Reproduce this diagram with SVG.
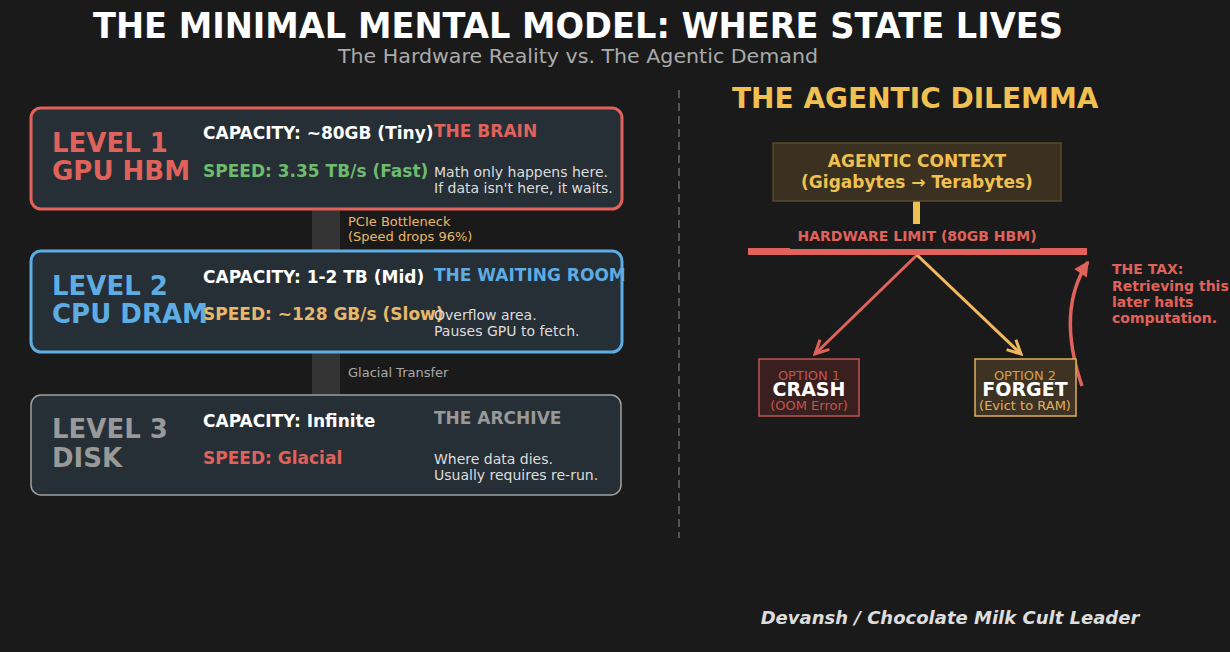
<svg xmlns="http://www.w3.org/2000/svg" width="1230" height="652" viewBox="0 0 1230 652">
<style>
text{font-family:"DejaVu Sans","Liberation Sans",sans-serif}
.b{font-weight:bold}
.lvl{font-size:26px;font-weight:bold}
.cap{font-size:17px;font-weight:bold;fill:#ffffff}
.role{font-size:17px;font-weight:bold}
.desc{font-size:14px;fill:#dddddd}
.box{fill:#262e36;stroke-width:3}
.bar{fill:#333333}
.note{font-size:13px}
.opt{font-size:13px;text-anchor:middle}
.optb{font-size:19px;font-weight:bold;fill:#ffffff;text-anchor:middle}
.tax{font-size:14px;font-weight:bold;fill:#e0625a}
</style>
<defs>
<marker id="ar" viewBox="0 0 12 12" refX="10.5" refY="6" markerWidth="18" markerHeight="18" markerUnits="userSpaceOnUse" orient="auto"><path d="M1.5,1.5 L10.5,6 L1.5,10.5" fill="none" stroke="context-stroke" stroke-width="2"/></marker>
<marker id="arR" viewBox="0 0 12 12" refX="10" refY="6" markerWidth="18" markerHeight="18" markerUnits="userSpaceOnUse" orient="auto"><path d="M1,1 L11,6 L1,11 Z" fill="#e0625a"/></marker>
</defs>
<rect width="1230" height="652" fill="#1a1a1a"/>
<g id="title">
<text x="578" y="38" class="b" font-size="35" fill="#ffffff" text-anchor="middle" textLength="970" lengthAdjust="spacingAndGlyphs">THE MINIMAL MENTAL MODEL: WHERE STATE LIVES</text>
<text x="578" y="63" font-size="19" fill="#aaaaaa" text-anchor="middle" textLength="480" lengthAdjust="spacingAndGlyphs">The Hardware Reality vs. The Agentic Demand</text>
</g>
<g id="connectors">
<rect class="bar" x="312" y="210" width="28" height="41"/>
<rect class="bar" x="312" y="353" width="28" height="42"/>
<line x1="679" y1="90" x2="679" y2="538" stroke="#555555" stroke-width="2" stroke-dasharray="8,5"/>
<rect x="913" y="201" width="7" height="23" fill="#f0c050"/>
<path d="M917,255 L815,354" stroke="#e0625a" stroke-width="3" fill="none" marker-end="url(#ar)"/>
<path d="M917,255 L1021,354" stroke="#f0b860" stroke-width="3" fill="none" marker-end="url(#ar)"/>
<path d="M1082,386 Q1056,310 1088,262" stroke="#e0625a" stroke-width="3.5" fill="none" marker-end="url(#arR)"/>
</g>
<g id="level1">
<rect class="box" x="31" y="108" width="591" height="101" rx="10" stroke="#e0625a"/>
<text class="lvl" x="52" y="152" fill="#e0625a">LEVEL 1</text>
<text class="lvl" x="52" y="180" fill="#e0625a">GPU HBM</text>
<text class="cap" x="203" y="139">CAPACITY: ~80GB (Tiny)</text>
<text class="cap" x="203" y="177" style="fill:#6dbb6d">SPEED: 3.35 TB/s (Fast)</text>
<text class="role" x="434" y="137" fill="#e0625a">THE BRAIN</text>
<text class="desc" x="434" y="177">Math only happens here.</text>
<text class="desc" x="434" y="193">If data isn't here, it waits.</text>
</g>
<g id="pcie">
<text class="note" x="348" y="226" fill="#e8b86a">PCIe Bottleneck</text>
<text class="note" x="348" y="241" fill="#e8b86a">(Speed drops 96%)</text>
</g>
<g id="level2">
<rect class="box" x="31" y="251" width="591" height="101" rx="10" stroke="#5dade2"/>
<text class="lvl" x="52" y="295" fill="#5dade2">LEVEL 2</text>
<text class="lvl" x="52" y="323" fill="#5dade2">CPU DRAM</text>
<text class="cap" x="203" y="283">CAPACITY: 1-2 TB (Mid)</text>
<text class="cap" x="203" y="320" style="fill:#e8b86a">SPEED: ~128 GB/s (Slow)</text>
<text class="role" x="434" y="281" fill="#5dade2">THE WAITING ROOM</text>
<text class="desc" x="434" y="320">Overflow area.</text>
<text class="desc" x="434" y="336">Pauses GPU to fetch.</text>
</g>
<g id="glacial">
<text class="note" x="348" y="377" fill="#aaaaaa">Glacial Transfer</text>
</g>
<g id="level3">
<rect class="box" x="31" y="395" width="590" height="100" rx="10" stroke="#a0a0a0" style="stroke-width:1.5"/>
<text class="lvl" x="52" y="438" fill="#999999">LEVEL 3</text>
<text class="lvl" x="52" y="467" fill="#999999">DISK</text>
<text class="cap" x="203" y="427">CAPACITY: Infinite</text>
<text class="cap" x="203" y="464" style="fill:#e0625a">SPEED: Glacial</text>
<text class="role" x="434" y="424" fill="#999999">THE ARCHIVE</text>
<text class="desc" x="434" y="464">Where data dies.</text>
<text class="desc" x="434" y="480">Usually requires re-run.</text>
</g>
<g id="dilemma">
<text x="732" y="108" class="b" font-size="28" fill="#f0c050">THE AGENTIC DILEMMA</text>
</g>
<g id="context">
<rect x="773" y="143" width="288" height="58" fill="#3a3120" stroke="#5a4a2a" stroke-width="1.5"/>
<text x="917" y="167" class="b" font-size="17" fill="#f0c050" text-anchor="middle">AGENTIC CONTEXT</text>
<text x="917" y="188" class="b" font-size="17" fill="#f0c050" text-anchor="middle">(Gigabytes → Terabytes)</text>
</g>
<g id="limit">
<rect x="748" y="248" width="339" height="7" fill="#e0625a"/>
<rect x="790" y="226" width="250" height="23" fill="#1a1a1a"/>
<text x="917" y="241" class="b" font-size="14" fill="#e0625a" text-anchor="middle">HARDWARE LIMIT (80GB HBM)</text>
</g>
<g id="crash">
<rect x="759" y="359" width="100" height="57" fill="#3a1f1f" stroke="#c05550" stroke-width="1.5"/>
<text class="opt" x="809" y="380" fill="#c05550">OPTION 1</text>
<text class="optb" x="809" y="396">CRASH</text>
<text class="opt" x="809" y="410" fill="#c05550">(OOM Error)</text>
</g>
<g id="forget">
<rect x="975" y="359" width="101" height="57" fill="#3e3222" stroke="#e0b060" stroke-width="1.5"/>
<text class="opt" x="1025" y="380" fill="#d4a050">OPTION 2</text>
<text class="optb" x="1025" y="396">FORGET</text>
<text class="opt" x="1025" y="410" fill="#e0b060">(Evict to RAM)</text>
</g>
<g id="tax">
<text class="tax" x="1112" y="274">THE TAX:</text>
<text class="tax" x="1112" y="291">Retrieving this</text>
<text class="tax" x="1112" y="307">later halts</text>
<text class="tax" x="1112" y="323">computation.</text>
</g>
<g id="footer">
<text x="950" y="624" class="b" font-size="18" font-style="italic" fill="#dddddd" text-anchor="middle">Devansh / Chocolate Milk Cult Leader</text>
</g>
</svg>
